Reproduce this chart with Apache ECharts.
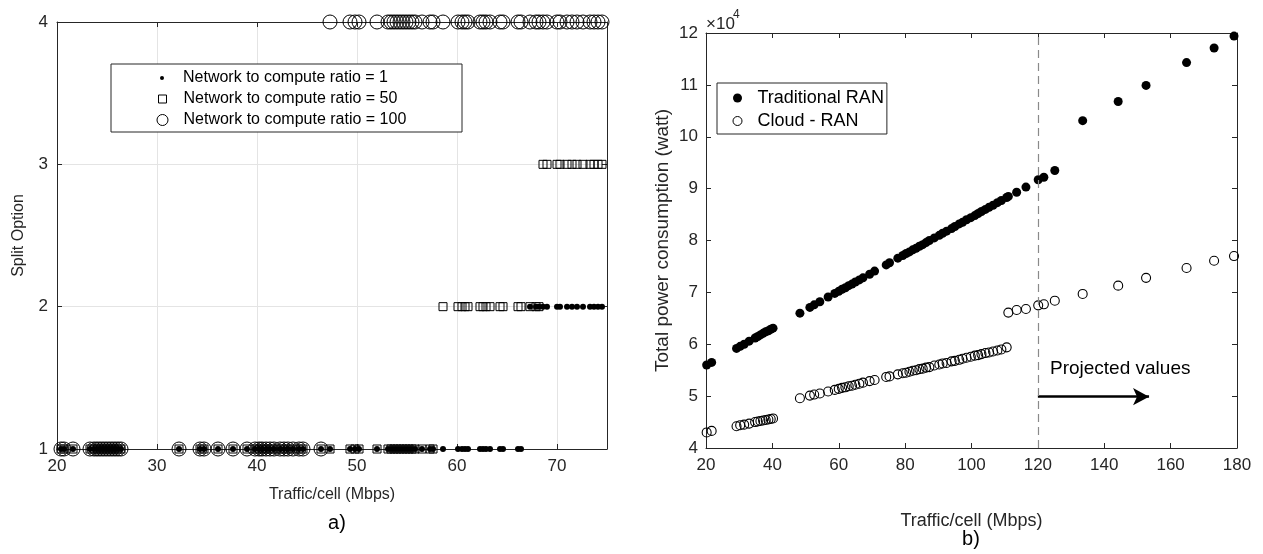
<!DOCTYPE html>
<html>
<head>
<meta charset="utf-8">
<script src="https://cdn.jsdelivr.net/npm/echarts@6/dist/echarts.min.js"></script>
<style>
  html, body { margin: 0; padding: 0; background: #ffffff; }
  #chart { width: 1263px; height: 554px; }
</style>
</head>
<body>
<div id="chart"></div>
<script>
// ---------- Panel a): split option selected for each traffic load ----------
const trafficA = [
  20.4, 20.7, 21.6, 23.3, 23.7, 24.0, 24.3, 24.6, 24.9, 25.2, 25.5, 25.8, 26.1, 26.4,
  32.2, 34.3, 34.7, 36.1, 37.6, 39.0, 39.8, 40.2, 40.5, 40.9, 41.3, 41.7, 42.3, 42.7, 43.1, 43.6, 44.2, 44.6, 46.4,
  47.3, 49.3, 49.8, 50.2, 52.0, 53.1, 53.4, 53.7, 54.0, 54.3, 54.6, 54.9, 55.2, 55.5, 55.8, 56.5, 57.3, 57.6,
  58.6, 60.1, 60.5, 60.8, 61.1, 62.3, 62.6, 62.9, 63.3, 64.3, 64.6, 66.1, 66.4,
  67.3, 67.9, 68.2,
  68.6, 69.0, 70.0, 70.3, 71.0, 71.5, 72.0, 72.6, 73.3, 73.7, 74.1, 74.5
];
const splitRatio1 = [
  1, 1, 1, 1, 1, 1, 1, 1, 1, 1, 1, 1, 1, 1,
  1, 1, 1, 1, 1, 1, 1, 1, 1, 1, 1, 1, 1, 1, 1, 1, 1, 1, 1,
  1, 1, 1, 1, 1, 1, 1, 1, 1, 1, 1, 1, 1, 1, 1, 1, 1, 1,
  1, 1, 1, 1, 1, 1, 1, 1, 1, 1, 1, 1, 1,
  2, 2, 2,
  2, 2, 2, 2, 2, 2, 2, 2, 2, 2, 2, 2
];
const splitRatio50 = [
  1, 1, 1, 1, 1, 1, 1, 1, 1, 1, 1, 1, 1, 1,
  1, 1, 1, 1, 1, 1, 1, 1, 1, 1, 1, 1, 1, 1, 1, 1, 1, 1, 1,
  1, 1, 1, 1, 1, 1, 1, 1, 1, 1, 1, 1, 1, 1, 1, 1, 1, 1,
  2, 2, 2, 2, 2, 2, 2, 2, 2, 2, 2, 2, 2,
  2, 2, 2,
  3, 3, 3, 3, 3, 3, 3, 3, 3, 3, 3, 3
];
const splitRatio100 = [
  1, 1, 1, 1, 1, 1, 1, 1, 1, 1, 1, 1, 1, 1,
  1, 1, 1, 1, 1, 1, 1, 1, 1, 1, 1, 1, 1, 1, 1, 1, 1, 1, 1,
  4, 4, 4, 4, 4, 4, 4, 4, 4, 4, 4, 4, 4, 4, 4, 4, 4, 4,
  4, 4, 4, 4, 4, 4, 4, 4, 4, 4, 4, 4, 4,
  4, 4, 4,
  4, 4, 4, 4, 4, 4, 4, 4, 4, 4, 4, 4
];
const seriesNamesA = [
  'Network to compute ratio = 1',
  'Network to compute ratio = 50',
  'Network to compute ratio = 100'
];

// ---------- Panel b): total power consumption, in units of 10^4 W ----------
const trafficB = [
  20.2, 21.7, 29.2, 30.3, 31.5, 33.0, 34.8, 35.6, 36.4, 37.2, 38.0, 38.8, 39.5, 40.2,
  48.3, 51.3, 52.6, 54.3, 56.8, 58.8, 60.0, 61.0, 62.0, 63.0, 64.0, 65.0, 66.2, 67.3, 69.3, 70.8,
  74.3, 75.3, 77.8, 79.3, 80.3, 81.3, 82.3, 83.3, 84.3, 85.3, 86.3, 87.3, 88.8, 90.3, 91.3, 92.5,
  94.0, 95.0, 96.3, 97.3, 98.5, 99.8, 101.0, 102.0, 103.0, 104.2, 105.3, 106.5, 107.8, 109.0, 110.6,
  111.1, 113.6, 116.4, 120.1, 121.8, 125.1,
  133.5, 144.2, 152.6, 164.8, 173.1, 179.1
];
const powerTraditional = [
  5.60, 5.65, 5.92, 5.96, 6.00, 6.06, 6.12, 6.15, 6.18, 6.21, 6.24, 6.26, 6.29, 6.31,
  6.60, 6.71, 6.76, 6.82, 6.91, 6.98, 7.02, 7.06, 7.09, 7.13, 7.16, 7.20, 7.24, 7.28, 7.35, 7.41,
  7.53, 7.57, 7.66, 7.71, 7.75, 7.78, 7.82, 7.85, 7.89, 7.92, 7.96, 8.00, 8.05, 8.10, 8.14, 8.18,
  8.23, 8.27, 8.32, 8.35, 8.40, 8.44, 8.48, 8.52, 8.56, 8.60, 8.64, 8.68, 8.73, 8.77, 8.83,
  8.85, 8.93, 9.03, 9.17, 9.22, 9.35,
  10.31, 10.68, 10.99, 11.43, 11.71, 11.94
];
const powerCloud = [
  4.30, 4.33, 4.42, 4.44, 4.45, 4.47, 4.50, 4.51, 4.52, 4.53, 4.54, 4.55, 4.56, 4.57,
  4.96, 5.01, 5.03, 5.05, 5.09, 5.12, 5.14, 5.16, 5.17, 5.19, 5.20, 5.22, 5.24, 5.26, 5.29, 5.31,
  5.37, 5.38, 5.42, 5.44, 5.45, 5.47, 5.49, 5.50, 5.52, 5.53, 5.55, 5.56, 5.59, 5.61, 5.63, 5.64,
  5.67, 5.68, 5.70, 5.72, 5.74, 5.76, 5.78, 5.79, 5.81, 5.83, 5.84, 5.86, 5.88, 5.90, 5.94,
  6.61, 6.66, 6.68, 6.75, 6.77, 6.84,
  6.97, 7.13, 7.28, 7.47, 7.61, 7.70
];
const projectionStart = 120;               // measured data ends here
const projectionArrow = [120, 153.5, 4.99]; // arrow from x0 to x1 at height y
const projectionLabelAt = [123.5, 5.52];

const FONT = '"Liberation Sans", Arial, Helvetica, sans-serif';
const INK = '#262626';
const GRIDLINE = '#e4e4e4';

const chart = echarts.init(document.getElementById('chart'), null, { renderer: 'canvas' });

function frameAxis(gridIndex, pos, min, max, interval, extra) {
  return Object.assign({
    type: 'value', gridIndex, position: pos, min, max, interval,
    axisLine: { show: true, onZero: false, lineStyle: { color: INK, width: 1 } },
    axisTick: { show: true, inside: true, length: 5, lineStyle: { color: INK } },
    axisLabel: { show: false },
    splitLine: { show: false }
  }, extra || {});
}

const tickLabel = (extra) => Object.assign({ show: true, color: INK, fontSize: 17, fontFamily: FONT }, extra);

// one single-entry legend per row so each marker keeps its own size
function rowLegend(name, icon, size, centerY) {
  return {
    data: [{ name, icon }],
    left: 162 - size / 2, top: centerY - 9, padding: 0,
    itemWidth: 32, itemHeight: size,
    selectedMode: false, itemStyle: { borderWidth: 1 },
    textStyle: { color: '#000', fontSize: 16, fontFamily: FONT }
  };
}

const option = {
  animation: false,
  backgroundColor: '#ffffff',
  textStyle: { fontFamily: FONT },
  grid: [
    { left: 57, top: 22, width: 550, height: 427 },
    { left: 706, top: 33, width: 531, height: 415 }
  ],
  xAxis: [
    frameAxis(0, 'bottom', 20, 75, 10, {
      axisLabel: tickLabel({ margin: 9, showMaxLabel: false }),
      splitLine: { show: true, lineStyle: { color: GRIDLINE } },
      name: 'Traffic/cell (Mbps)', nameLocation: 'middle', nameGap: 38,
      nameTextStyle: { color: INK, fontSize: 16, fontFamily: FONT }
    }),
    frameAxis(0, 'top', 20, 75, 10),
    frameAxis(1, 'bottom', 20, 180, 20, {
      axisLabel: tickLabel({ margin: 9 }),
      name: 'Traffic/cell (Mbps)', nameLocation: 'middle', nameGap: 64,
      nameTextStyle: { color: INK, fontSize: 18, fontFamily: FONT }
    }),
    frameAxis(1, 'top', 20, 180, 20)
  ],
  yAxis: [
    frameAxis(0, 'left', 1, 4, 1, {
      axisLabel: tickLabel({ margin: 9 }),
      splitLine: { show: true, lineStyle: { color: GRIDLINE } },
      name: 'Split Option', nameLocation: 'middle', nameGap: 30,
      nameTextStyle: { color: INK, fontSize: 16, fontFamily: FONT }
    }),
    frameAxis(0, 'right', 1, 4, 1),
    frameAxis(1, 'left', 4, 12, 1, {
      axisLabel: tickLabel({ margin: 8 }),
      name: 'Total power consumption (watt)', nameLocation: 'middle', nameGap: 34,
      nameTextStyle: { color: INK, fontSize: 19, fontFamily: FONT }
    }),
    frameAxis(1, 'right', 4, 12, 1)
  ],
  legend: [
    rowLegend(seriesNamesA[0], 'circle', 4, 79),
    rowLegend(seriesNamesA[1], 'path://M0,0L1,0L1,1L0,1Z', 8, 100),
    rowLegend(seriesNamesA[2], 'circle', 11, 121),
    {
      data: [{ name: 'Traditional RAN', icon: 'circle' }, { name: 'Cloud - RAN', icon: 'circle' }],
      left: 717, top: 83, orient: 'vertical', padding: [6, 3, 4, 15.5], itemGap: 5,
      itemWidth: 30, itemHeight: 9, selectedMode: false,
      borderColor: INK, borderWidth: 1, backgroundColor: '#ffffff',
      itemStyle: { borderWidth: 1 },
      textStyle: { color: '#000', fontSize: 18, fontFamily: FONT }
    }
  ],
  series: [
    {
      name: seriesNamesA[0], type: 'scatter', xAxisIndex: 0, yAxisIndex: 0,
      data: trafficA.map((t, i) => [t, splitRatio1[i]]),
      symbol: 'circle', symbolSize: 6, clip: false, silent: true,
      itemStyle: { color: '#000000', opacity: 1 }
    },
    {
      name: seriesNamesA[1], type: 'scatter', xAxisIndex: 0, yAxisIndex: 0,
      data: trafficA.map((t, i) => [t, splitRatio50[i]]),
      symbol: 'rect', symbolSize: 8, clip: false, silent: true,
      itemStyle: { color: 'rgba(0,0,0,0)', borderColor: '#000000', borderWidth: 1, opacity: 1 }
    },
    {
      name: seriesNamesA[2], type: 'scatter', xAxisIndex: 0, yAxisIndex: 0,
      data: trafficA.map((t, i) => [t, splitRatio100[i]]),
      symbol: 'circle', symbolSize: 14, clip: false, silent: true,
      itemStyle: { color: 'rgba(0,0,0,0)', borderColor: '#000000', borderWidth: 1, opacity: 1 }
    },
    {
      name: 'Traditional RAN', type: 'scatter', xAxisIndex: 2, yAxisIndex: 2,
      data: trafficB.map((t, i) => [t, powerTraditional[i]]),
      symbol: 'circle', symbolSize: 9, clip: false, silent: true,
      itemStyle: { color: '#000000', opacity: 1 },
      markLine: {
        silent: true, symbol: ['none', 'arrow'], symbolSize: [13, 16],
        label: { show: false },
        lineStyle: { color: '#000000', width: 2.5, type: 'solid' },
        data: [[
          { coord: [projectionArrow[0], projectionArrow[2]] },
          { coord: [projectionArrow[1], projectionArrow[2]] }
        ]]
      }
    },
    {
      name: 'Cloud - RAN', type: 'scatter', xAxisIndex: 2, yAxisIndex: 2,
      data: trafficB.map((t, i) => [t, powerCloud[i]]),
      symbol: 'circle', symbolSize: 9, clip: false, silent: true,
      itemStyle: { color: 'rgba(0,0,0,0)', borderColor: '#000000', borderWidth: 1.1, opacity: 1 },
      markLine: {
        silent: true, symbol: 'none', label: { show: false },
        lineStyle: { color: '#8a8a8a', width: 1.2, type: [8, 5] },
        data: [{ xAxis: projectionStart }]
      },
      markPoint: {
        silent: true, symbol: 'circle', symbolSize: 1,
        itemStyle: { color: 'rgba(0,0,0,0)' },
        label: {
          show: true, position: 'right', distance: 0, formatter: 'Projected values',
          color: '#000', fontSize: 19, fontFamily: FONT
        },
        data: [{ coord: projectionLabelAt }]
      }
    }
  ],
  graphic: [
    {
      type: 'rect', z: 3, silent: true,
      shape: { x: 111, y: 64, width: 351, height: 68 },
      style: { fill: '#ffffff', stroke: INK, lineWidth: 1 }
    },
    {
      type: 'text', z: 5, x: 706, y: 24, silent: true,
      style: { text: '\u00d710', fill: INK, font: '17px ' + FONT, align: 'left', verticalAlign: 'middle' }
    },
    {
      type: 'text', z: 5, x: 733, y: 15, silent: true,
      style: { text: '4', fill: INK, font: '12px ' + FONT, align: 'left', verticalAlign: 'middle' }
    },
    {
      type: 'text', z: 5, x: 337, y: 523, silent: true,
      style: { text: 'a)', fill: '#000', font: '20px ' + FONT, align: 'center', verticalAlign: 'middle' }
    },
    {
      type: 'text', z: 5, x: 971, y: 539, silent: true,
      style: { text: 'b)', fill: '#000', font: '20px ' + FONT, align: 'center', verticalAlign: 'middle' }
    }
  ]
};

chart.setOption(option);
</script>
</body>
</html>
